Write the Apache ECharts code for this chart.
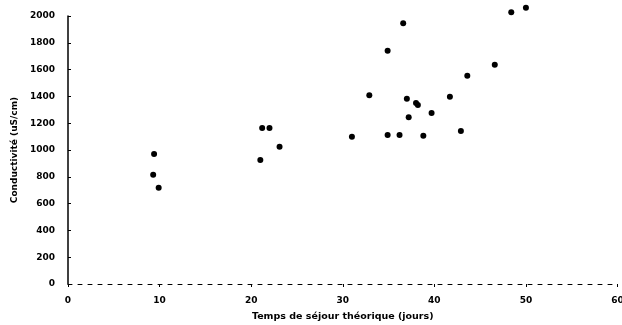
<!DOCTYPE html>
<html>
<head>
<meta charset="utf-8">
<script src="https://cdn.jsdelivr.net/npm/echarts@6/dist/echarts.min.js"></script>
<style>
  html, body { margin: 0; padding: 0; background: #fff; }
  #chart { width: 622px; height: 325px; }
</style>
</head>
<body>
<div id="chart"></div>
<script>
// temps de séjour théorique (jours)
var sejour = [9.4, 9.3, 9.9, 21.0, 21.2, 22.0, 23.1, 31.0, 32.9, 34.9, 34.9, 36.2, 36.6,
  37.0, 37.2, 38.0, 38.2, 38.8, 39.7, 41.7, 42.9, 43.6, 46.6, 48.4, 50.0];
// conductivité (uS/cm)
var conductivite = [970, 816, 719, 925, 1164, 1164, 1025, 1099, 1408, 1741, 1112, 1112, 1945,
  1383, 1244, 1350, 1335, 1107, 1276, 1398, 1142, 1555, 1637, 2028, 2062];

var xTicks = [0, 10, 20, 30, 40, 50, 60];
var yTicks = [0, 200, 400, 600, 800, 1000, 1200, 1400, 1600, 1800, 2000];

function initScatter(dom) {
  var myChart = echarts.init(dom),
    labelFont = {
      color: '#000',
      fontFamily: 'DejaVu Sans',
      fontWeight: 'bold',
      fontSize: 9
    },
    option = {
      animation: false,
      grid: { left: 68, right: 4.5, top: 16, bottom: 41, outerBoundsMode: 'none', containLabel: false },
      xAxis: {
        type: 'value',
        min: xTicks[0],
        max: xTicks[xTicks.length - 1],
        interval: 10,
        name: 'Temps de séjour théorique (jours)',
        nameLocation: 'middle',
        nameGap: 28,
        nameTextStyle: Object.assign({}, labelFont, { fontSize: 9.5 }),
        axisLabel: Object.assign({ margin: 12, formatter: function (v) { return String(v); } }, labelFont),
        axisLine: {
          onZero: false,
          lineStyle: { color: '#000', width: 1, type: [4, 6] }
        },
        axisTick: { show: true, length: 3, lineStyle: { color: '#000' } },
        splitLine: { show: false }
      },
      yAxis: {
        type: 'value',
        min: yTicks[0],
        max: yTicks[yTicks.length - 1],
        interval: 200,
        name: 'Conductivité (uS/cm)',
        nameLocation: 'middle',
        nameGap: 42,
        nameTextStyle: Object.assign({}, labelFont, { fontSize: 9 }),
        axisLabel: Object.assign({ margin: 13, formatter: function (v) { return String(v); } }, labelFont),
        axisLine: { lineStyle: { color: '#000', width: 1.5 } },
        axisTick: { show: true, inside: true, length: 3, lineStyle: { color: '#000' } },
        splitLine: { show: false }
      },
      series: [{
        type: 'scatter',
        symbol: 'circle',
        symbolSize: 6,
        clip: false,
        itemStyle: { color: '#000', opacity: 1 },
        data: sejour.map(function (x, i) { return [x, conductivite[i]]; })
      }]
    };
  myChart.setOption(option, true);
}

initScatter(document.getElementById('chart'));
</script>
</body>
</html>
